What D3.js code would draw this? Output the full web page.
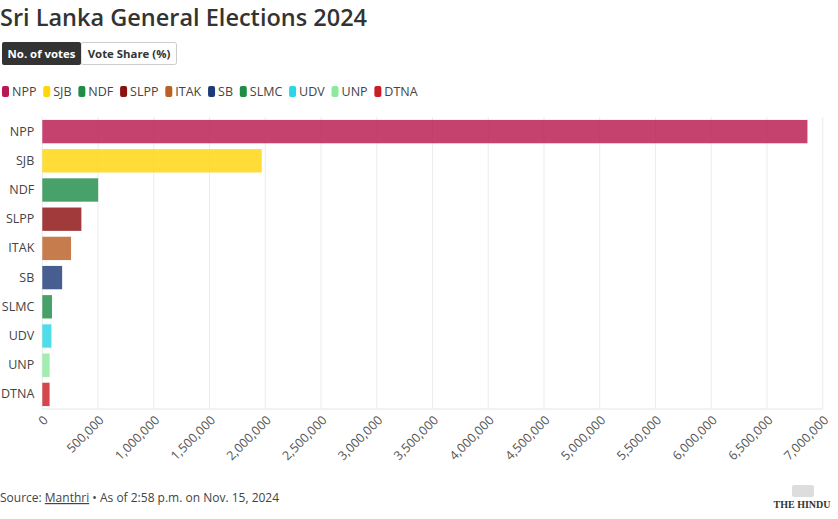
<!DOCTYPE html>
<html><head><meta charset="utf-8">
<script src="https://cdn.jsdelivr.net/npm/d3@7"></script>
<style>
body{margin:0;background:#fff;}
svg{display:block;font-family:"Open Sans",sans-serif;}
</style></head>
<body><svg id="c" width="838" height="519"></svg>
<script>
const parties = ["NPP","SJB","NDF","SLPP","ITAK","SB","SLMC","UDV","UNP","DTNA"];
const votes = [6863186,1968716,500835,350429,257813,178006,87038,81905,66234,65382];
const colors = ["#b8184f","#ffd60a","#1f8c48","#8c1010","#ba5f25","#1e3a78","#1f8c48","#2ad6e6","#8ee89e","#c91e26"];
const tickValues = [0,500000,1000000,1500000,2000000,2500000,3000000,3500000,4000000,4500000,5000000,5500000,6000000,6500000,7000000];
const title = "Sri Lanka General Elections 2024";
const buttons = ["No. of votes","Vote Share (%)"];

const svg = d3.select("#c");
svg.append("text").attr("x",0).attr("y",26).attr("font-size",23.5).attr("font-weight",600)
  .attr("fill","#333").attr("font-family","'Open Sans',sans-serif").text(title);

// buttons
const bx=[2,81,177];
svg.append("rect").attr("x",bx[1]).attr("y",42.5).attr("width",bx[2]-bx[1]-0.5).attr("height",22)
  .attr("rx",2).attr("fill","#fff").attr("stroke","#ccc");
svg.append("rect").attr("x",bx[0]).attr("y",42).attr("width",bx[1]-bx[0]).attr("height",23)
  .attr("rx",2).attr("fill","#333");
buttons.forEach((b,i)=>{
  svg.append("text").attr("x",(bx[i]+bx[i+1])/2).attr("y",58).attr("text-anchor","middle")
    .attr("font-size",11.4).attr("font-weight",700).attr("fill",i===0?"#fff":"#333").text(b);
});

// legend
const lg = svg.append("g").attr("transform","translate(2,86)");
let lx=0;
parties.forEach((p,i)=>{
  const g = lg.append("g").attr("transform",`translate(${lx},0)`);
  g.append("rect").attr("width",7).attr("height",11).attr("rx",2).attr("fill",colors[i]);
  const t = g.append("text").attr("x",10).attr("y",10).attr("font-size",12.5).attr("fill","#444").text(p);
  lx += 10 + t.node().getComputedTextLength() + 6.8;
});

// chart
const x = d3.scaleLinear().domain([0,7000000]).range([42.3,822.7]);
const y = d3.scaleBand().domain(parties).range([117,409]).paddingInner(0.2).paddingOuter(0.1);

const grid = svg.append("g");
grid.selectAll("line").data(tickValues).join("line")
  .attr("x1",d=>x(d)).attr("x2",d=>x(d)).attr("y1",117).attr("y2",409)
  .attr("stroke","#ececec");
grid.append("line").attr("x1",x(0)).attr("x2",x(7000000)).attr("y1",409).attr("y2",409).attr("stroke","#e6e6e6");

svg.append("g").selectAll("rect").data(parties).join("rect")
  .attr("x",x(0)).attr("y",d=>y(d)).attr("height",y.bandwidth())
  .attr("width",(d,i)=>x(votes[i])-x(0)).attr("fill",(d,i)=>colors[i]).attr("fill-opacity",0.82);

const yAxis = svg.append("g").attr("transform",`translate(${x(0)},0)`)
  .call(d3.axisLeft(y).tickSize(0).tickPadding(8));
yAxis.select(".domain").remove();
yAxis.selectAll("text").attr("font-size",12.5).attr("fill","#444").attr("font-family","'Open Sans',sans-serif");

const xAxis = svg.append("g").attr("transform","translate(0,409)")
  .call(d3.axisBottom(x).tickValues(tickValues).tickSize(0).tickFormat(d3.format(",")));
xAxis.select(".domain").remove();
xAxis.selectAll("text").attr("font-size",12.5).attr("fill","#555").attr("font-family","'Open Sans',sans-serif")
  .attr("text-anchor","end").attr("dy",0).attr("y",0)
  .attr("transform","translate(6,12) rotate(-45)");

// footer
const f = svg.append("text").attr("x",0).attr("y",502).attr("font-size",12).attr("fill","#444");
f.append("tspan").text("Source: ");
f.append("tspan").attr("text-decoration","underline").text("Manthri");
f.append("tspan").text(" \u2022 As of 2:58 p.m. on Nov. 15, 2024");

svg.append("text").attr("x",802).attr("y",508).attr("text-anchor","middle")
  .attr("font-family","'Liberation Serif',serif").attr("font-size",10).attr("font-weight",700)
  .attr("fill","#333").text("THE HINDU");
svg.append("rect").attr("x",792).attr("y",485).attr("width",22).attr("height",12).attr("fill","#ddd").attr("rx",2);
</script></body></html>
